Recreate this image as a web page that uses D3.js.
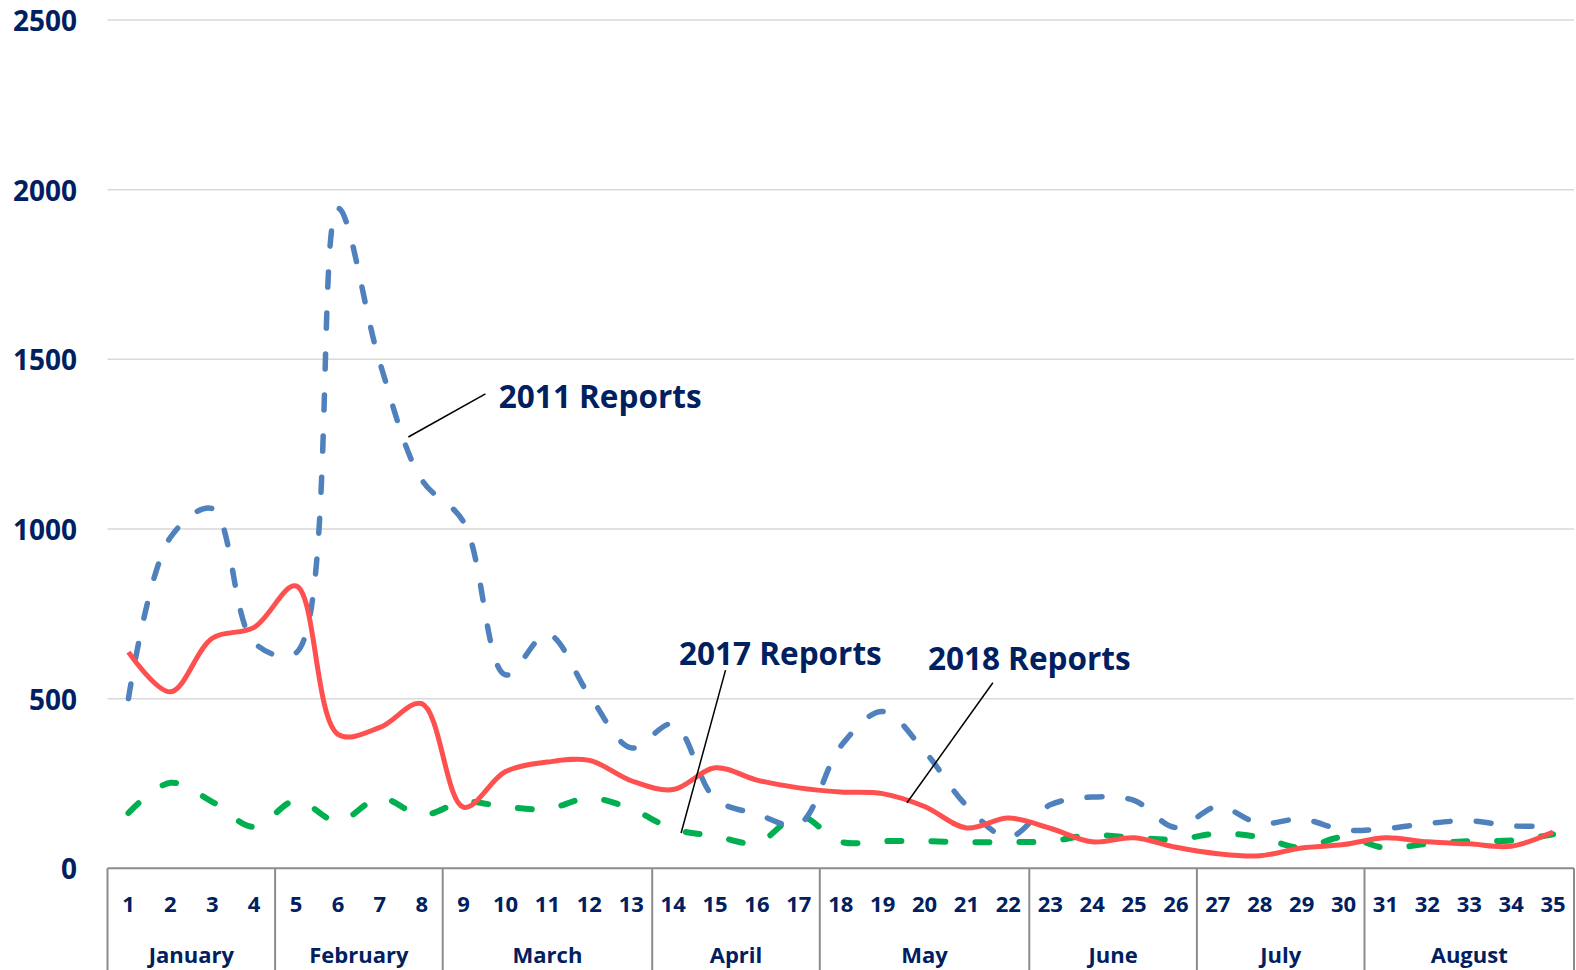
<!DOCTYPE html>
<html>
<head>
<meta charset="utf-8">
<script src="https://cdn.jsdelivr.net/npm/d3@7"></script>
<style>
  html, body { margin: 0; padding: 0; background: #ffffff; }
  svg { display: block; }
  text { font-family: "Open Sans", "Noto Sans", sans-serif; font-weight: 700; fill: #002060; }
</style>
</head>
<body>
<svg id="chart" width="1576" height="970"></svg>
<script>
// ---------------- data ----------------
const weeks = d3.range(1, 36).map(String);
const months = ["January", "February", "March", "April", "May", "June", "July", "August"];
const monthWeeks = [4, 4, 5, 4, 5, 4, 4, 5];
const yTicks = [0, 500, 1000, 1500, 2000, 2500];

const reports2011 = [500, 975, 1060, 665, 635, 1945, 1490, 1145, 1020, 570,
                     690, 510, 355, 425, 205, 160, 130, 360, 462, 345,
                     185, 92, 187, 210, 200, 120, 182, 132, 145, 113,
                     117, 132, 140, 125, 125];
const reports2017 = [163, 252, 196, 122, 200, 138, 207, 157, 196, 181,
                     175, 207, 175, 116, 95, 75, 155, 78, 80, 80,
                     77, 77, 80, 98, 90, 85, 102, 92, 60, 92,
                     60, 72, 80, 82, 100];
const reports2018 = [637, 520, 678, 710, 832, 395, 415, 485, 180, 285,
                     313, 318, 258, 232, 296, 260, 237, 225, 220, 182,
                     119, 148, 118, 78, 90, 62, 43, 37, 60, 70,
                     90, 78, 72, 65, 107];

const seriesNames = ["2011 Reports", "2017 Reports", "2018 Reports"];
// annotation anchors in data space: label (week, value), line start (week, value), line end (week, value)
const annoLabelPos = [[9.84, 1392], [14.14, 637], [20.08, 622]];
const annoLineFrom = [[9.52, 1398], [15.25, 584], [21.63, 547]];
const annoLineTo   = [[7.68, 1271], [14.19, 104], [19.58, 193]];

// ---------------- layout ----------------
const svg = d3.select("#chart");
const plotLeft = 107.5, plotRight = 1574, plotTop = 20, plotBottom = 868.3;

const x = d3.scaleBand().domain(weeks).range([plotLeft, plotRight]).padding(0);
const bw = x.bandwidth();
const cx = w => x(w) + bw / 2;
const xw = d3.scaleLinear().domain([1, 35]).range([cx("1"), cx("35")]);
const y = d3.scaleLinear().domain([0, 2500]).range([plotBottom, plotTop]);

// gridlines
svg.append("g").selectAll("line").data(yTicks.filter(d => d > 0)).join("line")
  .attr("x1", plotLeft).attr("x2", plotRight)
  .attr("y1", d => y(d)).attr("y2", d => y(d))
  .attr("stroke", "#d9d9d9").attr("stroke-width", 1.5);

// y tick labels
svg.append("g").selectAll("text").data(yTicks).join("text")
  .attr("x", 77).attr("y", d => y(d))
  .attr("text-anchor", "end").attr("dominant-baseline", "central")
  .style("font-size", "28px")
  .text(d => d);

// x axis line
svg.append("line").attr("x1", plotLeft).attr("x2", plotRight)
  .attr("y1", plotBottom).attr("y2", plotBottom)
  .attr("stroke", "#8c8c8c").attr("stroke-width", 2);

// group separators
const bounds = [0];
monthWeeks.forEach(n => bounds.push(bounds[bounds.length - 1] + n));
const sepX = i => i === 0 ? plotLeft : (i >= 35 ? plotRight : x(weeks[i]));
svg.append("g").selectAll("line").data(bounds).join("line")
  .attr("x1", d => sepX(d)).attr("x2", d => sepX(d))
  .attr("y1", plotBottom).attr("y2", 970)
  .attr("stroke", "#8c8c8c").attr("stroke-width", 2);

// week labels
svg.append("g").selectAll("text").data(weeks).join("text")
  .attr("x", d => cx(d)).attr("y", 903)
  .attr("text-anchor", "middle").attr("dominant-baseline", "central")
  .style("font-size", "22px")
  .text(d => d);

// month labels
svg.append("g").selectAll("text").data(months).join("text")
  .attr("x", (d, i) => (sepX(bounds[i]) + sepX(bounds[i + 1])) / 2)
  .attr("y", 954)
  .attr("text-anchor", "middle").attr("dominant-baseline", "central")
  .style("font-size", "22px")
  .text(d => d);

// lines
const line = d3.line()
  .x((d, i) => cx(weeks[i]))
  .y(d => y(d))
  .curve(d3.curveCatmullRom.alpha(0.5));

const g = svg.append("g");
g.append("path").datum(reports2017)
  .attr("d", line).attr("fill", "none")
  .attr("stroke", "#00B050").attr("stroke-width", 6)
  .attr("stroke-linecap", "round").attr("stroke-dasharray", "14,30");
g.append("path").datum(reports2011)
  .attr("d", line).attr("fill", "none")
  .attr("stroke", "#4F81BD").attr("stroke-width", 5.5)
  .attr("stroke-linecap", "round").attr("stroke-dasharray", "15,26");
g.append("path").datum(reports2018)
  .attr("d", line).attr("fill", "none")
  .attr("stroke", "#FF5050").attr("stroke-width", 5)
  .attr("stroke-linejoin", "round");

// annotations
const ann = svg.append("g");
seriesNames.forEach((name, i) => {
  ann.append("line")
    .attr("x1", xw(annoLineFrom[i][0])).attr("y1", y(annoLineFrom[i][1]))
    .attr("x2", xw(annoLineTo[i][0])).attr("y2", y(annoLineTo[i][1]))
    .attr("stroke", "#000").attr("stroke-width", 1.5);
  ann.append("text")
    .attr("x", xw(annoLabelPos[i][0])).attr("y", y(annoLabelPos[i][1]))
    .attr("dominant-baseline", "central")
    .style("font-size", "31.5px")
    .text(name);
});
</script>
</body>
</html>
